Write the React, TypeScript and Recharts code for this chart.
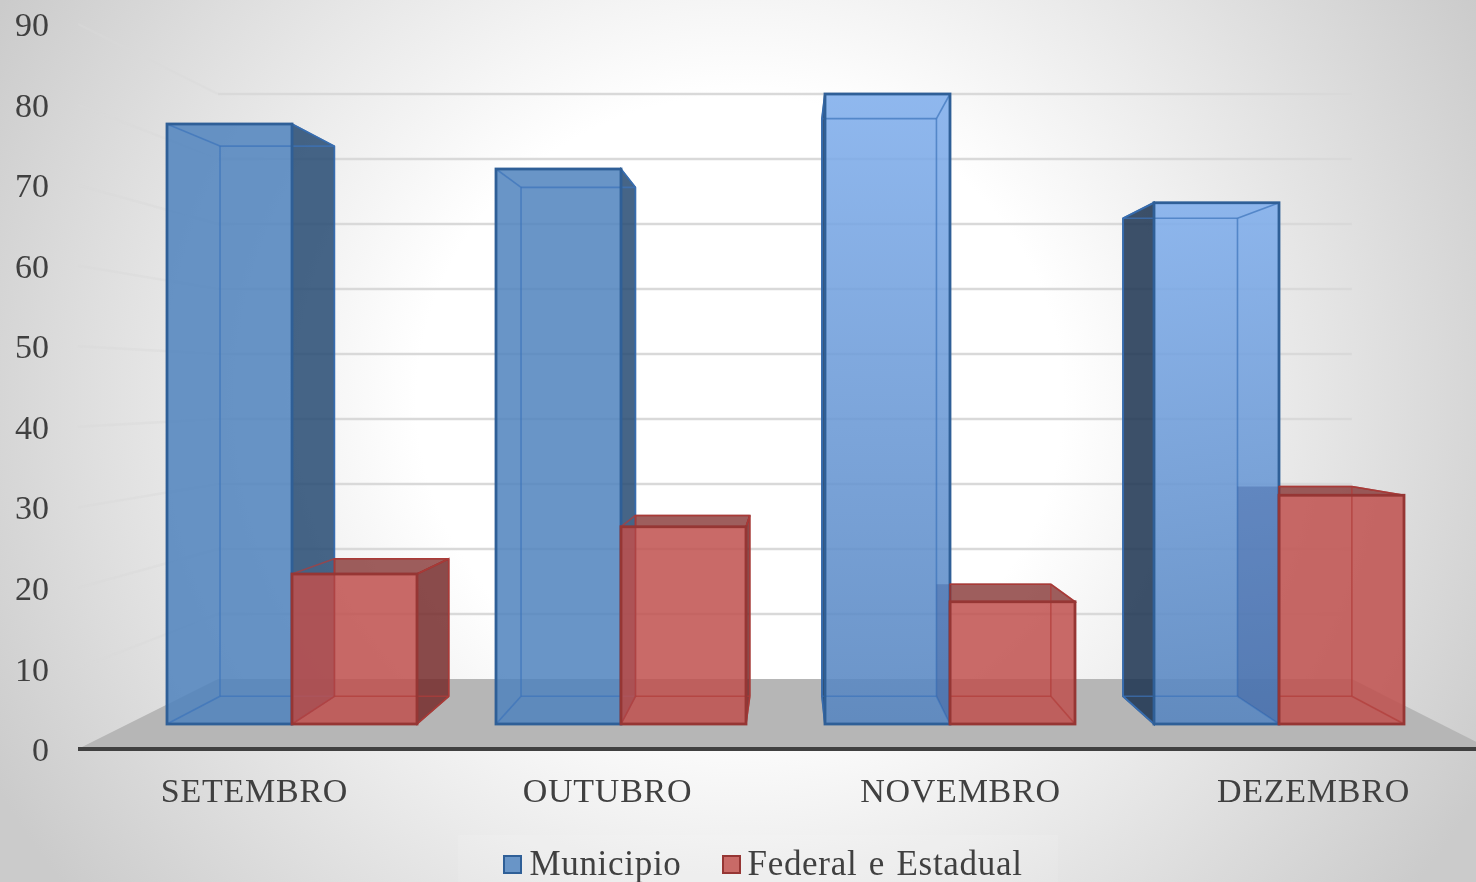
/**
 * Municipio vs Federal e Estadual — Excel-style 3D perspective columns
 */

import { Bar, BarChart, CartesianGrid, Legend, XAxis, YAxis } from 'recharts';

const MONTHS = ['SETEMBRO', 'OUTUBRO', 'NOVEMBRO', 'DEZEMBRO'];
const MUNICIPIO = [80, 74, 84, 69.5];
const FEDERAL_ESTADUAL = [20, 26.3, 16.3, 30.5];
const Y_TICKS = [0, 10, 20, 30, 40, 50, 60, 70, 80, 90];

const chartData = MONTHS.map((month, i) => ({
  month,
  municipio: MUNICIPIO[i],
  federal: FEDERAL_ESTADUAL[i],
}));

const FONT = '"Liberation Serif", serif';
const TEXT = '#404040';

// back plane of a box = front plane scaled towards the vanishing point
const backX = (x: number) => 0.915 * x + 67.2;
const backY = (y: number) => 0.917 * y + 32.4;

const BLUE = {
  front: '#4f82bd',
  side: '#264a72',
  top: '#264a72',
  edge: '#2f5f97',
  inner: '#3c74ba',
};
const RED = {
  front: '#c0504d',
  side: '#752c2b',
  top: '#863634',
  edge: '#963634',
  inner: '#b03c39',
};
const OVERLAP = '#2a4a8a';
const SHADOW_SIDE = '#1b3350';

const pts = (list: number[][]) => list.map((p) => p.join(',')).join(' ');

function Box3D(props: any) {
  const { x, y, width, height, index, palette, litFrom } = props;
  const l = x;
  const r = x + width;
  const t = y;
  const b = y + height;
  const bl = backX(l);
  const br = backX(r);
  const bt = backY(t);
  const bb = backY(b);
  const lit = index >= litFrom;
  const isFed = palette === RED;
  // a red box's left side sits behind the blue box next to it
  const hiddenLeft = isFed && bl < l;
  const innerL = hiddenLeft ? l : bl;

  return (
    <g>
      {hiddenLeft && (
        <polygon
          points={pts([[l, t], [l, bt], [bl, bt], [bl, bb], [l, b]])}
          fill={OVERLAP}
          fillOpacity={0.3}
        />
      )}
      {!isFed && bl < l && (
        <polygon
          points={pts([[l, t], [bl, bt], [bl, bb], [l, b]])}
          fill={SHADOW_SIDE}
          fillOpacity={0.85}
          stroke={palette.edge}
          strokeWidth={2}
        />
      )}
      {br > r && (
        <polygon
          points={pts([[r, t], [br, bt], [br, bb], [r, b]])}
          fill={palette.side}
          fillOpacity={0.85}
          stroke={palette.edge}
          strokeWidth={1.5}
        />
      )}
      {bt < t && (
        <polygon
          points={pts([[innerL, t], [r, t], [br, bt], [innerL, bt]])}
          fill={palette.top}
          fillOpacity={0.8}
          stroke={palette.edge}
          strokeWidth={1.5}
        />
      )}
      <rect
        x={l}
        y={t}
        width={width}
        height={height}
        fill={lit ? 'url(#litBlue)' : palette.front}
        fillOpacity={lit ? 0.88 : 0.85}
      />
      <g stroke={palette.inner} strokeWidth={1.6} strokeOpacity={0.7} fill="none">
        <line x1={innerL} y1={bt} x2={br} y2={bt} />
        <line x1={innerL} y1={bb} x2={br} y2={bb} />
        <line x1={br} y1={bt} x2={br} y2={bb} />
        <line x1={r} y1={t} x2={br} y2={bt} />
        <line x1={r} y1={b} x2={br} y2={bb} />
        {!hiddenLeft && (
          <>
            <line x1={bl} y1={bt} x2={bl} y2={bb} />
            <line x1={l} y1={t} x2={bl} y2={bt} />
            <line x1={l} y1={b} x2={bl} y2={bb} />
          </>
        )}
      </g>
      <rect x={l} y={t} width={width} height={height} fill="none" stroke={palette.edge} strokeWidth={2.8} />
    </g>
  );
}

// wall gridline: left wall running back to the rear wall, then across it.
// the line for 0 is the edge of the floor instead.
function WallLine(props: any) {
  const { x1, x2, y1 } = props;
  // the grid also hands over the two plot edges, which are not ticks
  if (y1 <= 25 || y1 >= 748) return <g />;
  const xb1 = 0.803 * x1 + 155.4;
  const xb2 = 0.803 * x2 + 155.4;
  const yf = (y1 - 74.6) / 0.807;
  if (yf > 740) {
    return <polygon points={pts([[x1, yf], [xb1, y1], [xb2, y1], [x2, yf]])} fill="#b6b6b6" />;
  }
  return (
    <g fill="none" stroke="#d9d9d9" strokeWidth={2.4}>
      <line x1={x1} y1={yf} x2={xb1} y2={y1} strokeOpacity={0.45} />
      <line x1={xb1} y1={y1} x2={xb2} y2={y1} />
    </g>
  );
}

function LegendBox({ payload }: any) {
  const items = (payload ?? []).filter((item: any) => item.type !== 'none');
  return (
    <div
      style={{
        display: 'flex',
        alignItems: 'center',
        justifyContent: 'center',
        height: 47,
        paddingTop: 11,
        paddingLeft: 10,
        boxSizing: 'border-box',
        background: 'rgba(255,255,255,0.1)',
        fontFamily: FONT,
        fontSize: 35,
        color: TEXT,
        letterSpacing: 0.7,
        wordSpacing: 2,
      }}
    >
      {items.map((item: any, i: number) => (
        <span key={item.value} style={{ display: 'flex', alignItems: 'center', marginLeft: i ? 40 : 0 }}>
          <span
            style={{
              width: 15,
              height: 15,
              marginRight: 7,
              background: item.color,
              border: `2px solid ${i ? RED.edge : BLUE.edge}`,
            }}
          />
          {item.value}
        </span>
      ))}
    </div>
  );
}

export default function App() {
  return (
    <div
      style={{
        position: 'fixed',
        left: 0,
        top: 0,
        width: 1476,
        height: 882,
        overflow: 'hidden',
        background: 'radial-gradient(ellipse 850px 800px at 740px 400px, #ffffff 38%, #cbcbcb 100%)',
      }}
    >
      <BarChart
        width={1490}
        height={882}
        data={chartData}
        barSize={125}
        barGap={0}
        margin={{ top: 24, right: 0, bottom: 0, left: 0 }}
      >
        <defs>
          <linearGradient id="litBlue" x1="0" y1="0" x2="0" y2="1">
            <stop offset="0%" stopColor="#80aeec" />
            <stop offset="100%" stopColor="#5685c0" />
          </linearGradient>
        </defs>

        <XAxis
          dataKey="month"
          height={86}
          tickLine={false}
          tickMargin={23}
          axisLine={{ stroke: TEXT, strokeWidth: 4 }}
          tick={{ fill: TEXT, fontSize: 34, fontFamily: FONT, letterSpacing: 0.75 }}
        />
        <YAxis
          width={78}
          domain={[0, 90]}
          ticks={Y_TICKS}
          interval={0}
          axisLine={false}
          tickLine={false}
          tickSize={0}
          tickMargin={29}
          tick={{ fill: TEXT, fontSize: 34, fontFamily: FONT }}
        />

        {/* hidden scales for the two depth planes of the perspective */}
        <XAxis xAxisId="front" dataKey="month" hide padding={{ left: 49, right: 47 }} />
        <YAxis yAxisId="front" hide domain={[-3.333, 93.333]} allowDataOverflow />
        <YAxis yAxisId="back" hide domain={[-10.77, 100.77]} ticks={Y_TICKS} interval={0} allowDataOverflow />

        <CartesianGrid yAxisId="back" vertical={false} horizontal={WallLine} />

        <Legend
          height={47}
          itemSorter={null}
          content={<LegendBox />}
          wrapperStyle={{ left: 458, bottom: 0, width: 600, height: 47 }}
        />

        {/* draws nothing, keeps the labelled axes tied to the data */}
        <Bar dataKey="municipio" legendType="none" isAnimationActive={false} shape={() => null} />
        <Bar
          dataKey="municipio"
          name="Municipio"
          fill="#6995c7"
          xAxisId="front"
          yAxisId="front"
          isAnimationActive={false}
          shape={(p: any) => <Box3D {...p} palette={BLUE} litFrom={2} />}
        />
        <Bar
          dataKey="federal"
          name="Federal e Estadual"
          fill="#c96a67"
          xAxisId="front"
          yAxisId="front"
          isAnimationActive={false}
          shape={(p: any) => <Box3D {...p} palette={RED} litFrom={9} />}
        />
      </BarChart>
    </div>
  );
}
